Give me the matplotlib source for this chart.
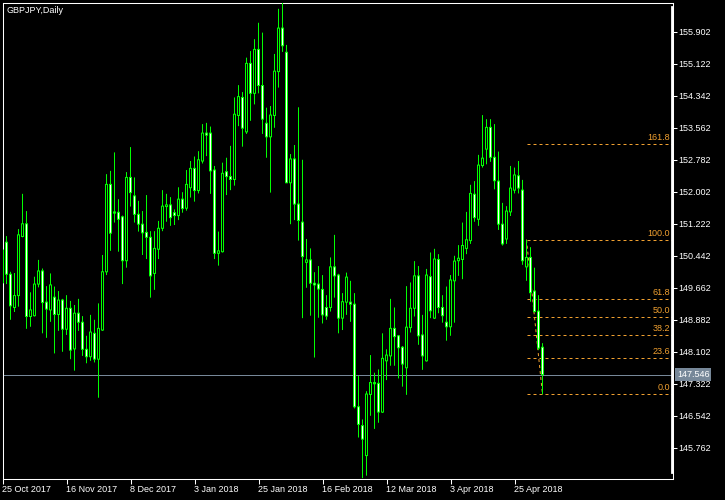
import numpy as np
import matplotlib.pyplot as plt
from matplotlib.lines import Line2D

plt.rcParams['font.family'] = ['Liberation Sans', 'DejaVu Sans']

symbol = "GBPJPY,Daily"

# bar index of each date label on the time scale
date_ticks = [0, 16, 32, 48, 64, 80, 96, 112, 128]
date_labels = ["25 Oct 2017", "16 Nov 2017", "8 Dec 2017", "3 Jan 2018", "25 Jan 2018",
               "16 Feb 2018", "12 Mar 2018", "3 Apr 2018", "25 Apr 2018"]
price_ticks = [155.902, 155.122, 154.342, 153.562, 152.782, 152.002, 151.222,
               150.442, 149.662, 148.882, 148.102, 147.322, 146.542, 145.762]

# daily OHLC
opens = [149.78, 150.77, 149.99, 149.18, 149.47, 150.91, 151.22, 148.96, 148.98, 149.75,
         150.07, 149.31, 149.12, 149.43, 149.01, 149.36, 148.65, 149.16, 148.17, 149.04,
         148.82, 148.16, 147.98, 148.55, 147.92, 148.63, 150.05, 152.18, 151.51, 151.50,
         151.39, 150.32, 152.35, 151.90, 151.45, 151.21, 151.01, 150.89, 150.01, 150.60,
         151.11, 151.64, 151.68, 151.49, 151.42, 151.82, 151.60, 152.10, 152.57, 152.03,
         152.75, 153.43, 153.43, 152.53, 150.50, 150.54, 152.49, 152.37, 152.30, 153.86,
         154.30, 153.46, 155.13, 154.40, 155.47, 154.59, 153.67, 153.34, 153.86, 154.93,
         155.99, 155.40, 152.22, 152.80, 151.70, 151.26, 150.28, 150.34, 149.77, 149.75,
         149.62, 149.18, 149.18, 150.17, 149.97, 148.92, 149.31, 149.31, 149.26, 146.76,
         146.30, 145.57, 147.06, 147.35, 147.33, 146.63, 147.88, 148.00, 148.67, 148.49,
         148.21, 147.71, 148.69, 149.16, 149.95, 148.51, 147.88, 149.93, 148.92, 150.35,
         149.18, 148.82, 148.71, 149.83, 150.32, 150.35, 150.62, 150.81, 151.94, 151.33,
         152.64, 153.04, 153.57, 152.84, 152.26, 151.21, 150.85, 151.51, 152.04, 152.39,
         152.04, 150.17, 150.40, 149.58, 149.09, 148.21]
highs = [150.78, 150.92, 150.05, 150.02, 151.09, 151.95, 151.53, 149.55, 149.93, 150.34,
         150.13, 149.70, 150.01, 149.69, 149.58, 149.39, 149.48, 149.34, 149.24, 149.39,
         148.97, 148.49, 149.00, 148.88, 149.28, 150.46, 152.43, 152.51, 152.96, 151.82,
         151.42, 152.48, 153.09, 152.35, 151.78, 151.53, 151.92, 151.04, 151.04, 151.29,
         152.04, 151.95, 151.87, 151.57, 152.11, 151.99, 152.53, 152.75, 152.86, 152.99,
         153.65, 153.68, 153.59, 152.63, 151.03, 152.71, 152.83, 153.12, 154.30, 154.60,
         154.43, 155.27, 155.43, 155.72, 156.12, 155.88, 154.05, 154.09, 155.36, 156.46,
         156.61, 155.58, 152.92, 153.14, 154.06, 152.78, 150.85, 150.62, 150.04, 150.19,
         149.97, 149.48, 150.40, 150.95, 150.00, 149.53, 150.03, 149.83, 149.53, 147.51,
         146.45, 147.14, 148.02, 147.59, 147.67, 148.55, 148.16, 149.39, 149.18, 148.51,
         148.24, 149.70, 149.79, 150.31, 150.19, 149.00, 150.12, 150.52, 150.61, 150.48,
         149.48, 149.69, 149.97, 150.44, 150.70, 151.25, 151.51, 152.17, 152.26, 152.90,
         153.87, 153.77, 153.77, 153.65, 152.98, 151.73, 151.65, 152.63, 152.59, 152.75,
         152.29, 150.83, 150.65, 150.15, 149.48, 148.31]
lows = [149.53, 149.75, 148.88, 149.07, 149.20, 150.89, 148.66, 148.71, 148.96, 149.67,
        148.55, 148.44, 148.83, 148.06, 148.61, 148.10, 148.51, 147.92, 147.64, 148.61,
        148.00, 147.82, 147.88, 147.84, 146.98, 148.61, 149.97, 150.56, 151.25, 150.54,
        149.75, 150.15, 151.64, 151.25, 151.03, 150.46, 150.36, 149.42, 149.61, 150.36,
        151.04, 151.27, 151.17, 151.19, 151.31, 151.49, 151.54, 151.86, 151.76, 151.96,
        152.69, 152.87, 151.95, 150.36, 150.20, 150.52, 151.92, 152.04, 152.15, 153.60,
        153.10, 153.41, 153.73, 154.13, 154.40, 153.41, 152.83, 151.98, 153.56, 154.54,
        155.41, 152.21, 151.21, 151.31, 150.81, 148.92, 149.66, 148.98, 147.96, 148.93,
        148.79, 148.88, 149.08, 149.42, 148.55, 148.63, 149.00, 148.83, 146.72, 146.01,
        145.02, 145.08, 146.54, 146.22, 146.37, 146.61, 147.41, 147.76, 147.76, 147.45,
        147.25, 147.05, 148.57, 148.96, 148.27, 147.66, 147.86, 148.92, 148.90, 149.04,
        148.81, 148.37, 148.49, 148.81, 149.95, 149.87, 150.48, 150.73, 151.27, 151.17,
        152.59, 152.67, 152.73, 152.06, 151.07, 150.69, 150.73, 151.41, 151.96, 151.96,
        150.22, 149.83, 149.32, 149.06, 148.14, 147.064]
closes = [150.58, 149.99, 149.22, 149.47, 150.95, 151.22, 148.96, 149.12, 149.75, 150.07,
          149.30, 149.14, 149.73, 149.01, 149.36, 148.65, 149.16, 148.14, 149.04, 148.82,
          148.16, 147.98, 148.58, 147.92, 148.67, 150.05, 152.18, 150.99, 151.48, 151.33,
          150.32, 152.35, 151.98, 151.45, 151.21, 151.00, 150.89, 149.95, 150.62, 151.11,
          151.65, 151.68, 151.37, 151.42, 151.82, 151.59, 152.18, 152.57, 152.03, 152.78,
          153.43, 153.38, 152.51, 150.50, 150.56, 152.45, 152.37, 152.30, 153.89, 154.32,
          153.55, 155.13, 154.40, 155.47, 154.59, 153.77, 153.34, 153.87, 154.94, 155.99,
          155.56, 152.22, 152.80, 151.70, 151.30, 150.42, 150.34, 149.77, 149.73, 149.63,
          149.00, 148.97, 150.17, 149.95, 148.92, 149.32, 149.92, 149.26, 146.76, 146.33,
          145.97, 147.07, 147.35, 147.32, 146.63, 147.94, 148.02, 148.67, 148.47, 148.20,
          147.80, 148.70, 149.16, 149.95, 148.49, 148.00, 149.97, 149.10, 150.36, 149.18,
          148.98, 148.71, 149.85, 150.31, 150.38, 150.69, 150.83, 151.96, 151.37, 152.65,
          152.82, 153.57, 152.84, 152.27, 151.21, 150.73, 151.53, 152.09, 152.41, 152.09,
          150.32, 150.40, 149.54, 149.08, 148.19, 147.546]

# fibonacci retracement drawn on the last leg down
fib_start = 131
fib_end = 135
fib_high = 150.832
fib_low = 147.064
fib_levels = [0.0, 23.6, 38.2, 50.0, 61.8, 100.0, 161.8]
last_price = 147.546

green = '#00ff00'
fib_color = '#f0a030'
grey = '#778899'

fig = plt.figure(figsize=(7.25, 5), dpi=100, facecolor='black')
ax = fig.add_axes([2.5/725, 21/500, 670/725, 476.5/500])
ax.set_facecolor('black')

x = np.arange(len(opens))
o = np.array(opens)
h = np.array(highs)
l = np.array(lows)
c = np.array(closes)
bull = c >= o
top = np.maximum(o, c)
bot = np.minimum(o, c)
px = 0.024375  # one screen pixel in price units
one = 72 / 100  # one pixel in points

# candles: wick, a 3px green box, then 1px fill inside (bull = black, bear = white)
ax.vlines(x, l, h, color=green, lw=one, zorder=3, snap=False)
ax.vlines(x, bot - px / 2, top + px / 2, color=green, lw=3 * one, zorder=4, snap=False)
inner = (top - bot) > 1.5 * px
ax.vlines(x[inner], (bot + px / 2)[inner], (top - px / 2)[inner],
          colors=np.where(bull, 'black', 'white')[inner], lw=one, zorder=5, snap=False)

ax.axhline(last_price, color=grey, lw=one, zorder=1)

rng = fib_high - fib_low
for lv in fib_levels:
    p = fib_low + rng * lv / 100
    ax.plot([fib_start, 168], [p, p], color=fib_color, lw=one, ls=(0, (3, 3)), zorder=2)
    ax.text(166.9, p + 0.05, f"{lv:.1f}", color=fib_color, ha='right', va='bottom', fontsize=6.5)
ax.plot([fib_start, fib_end], [fib_high, fib_low], color=fib_color, lw=one,
        ls=(0, (3, 3)), zorder=2)

ax.set_xlim(0, 167.5)
ax.set_ylim(144.999, 156.614)

ax.yaxis.tick_right()
ax.set_yticks(price_ticks)
ax.set_yticklabels([f"{p:.3f}" for p in price_ticks])
ax.tick_params(axis='y', colors='white', length=3, width=0.75, pad=1.5, labelsize=6.5)
ax.set_xticks(date_ticks)
ax.set_xticklabels(date_labels, ha='left')
ax.tick_params(axis='x', colors='white', length=3.5, width=0.75, pad=1, labelsize=6.5)
for s in ax.spines.values():
    s.set_color('white')
    s.set_linewidth(0.75)

ax.text(0.0067, 0.984, symbol, transform=ax.transAxes, color='white', fontsize=6.5,
        ha='left', va='center')
ax.text(1.0067, last_price, f"{last_price:.3f}", transform=ax.get_yaxis_transform(),
        color='white', fontsize=6.5, ha='left', va='center', zorder=10, clip_on=False,
        bbox=dict(boxstyle='square,pad=0.2', fc=grey, ec='none'))

# thick bar on the price scale edge
fig.add_artist(Line2D([672.3/725, 672.3/725], [493/500, 28/500], lw=2, color='white',
                      transform=fig.transFigure))

fig.savefig('out.png', dpi=100, facecolor='black')
